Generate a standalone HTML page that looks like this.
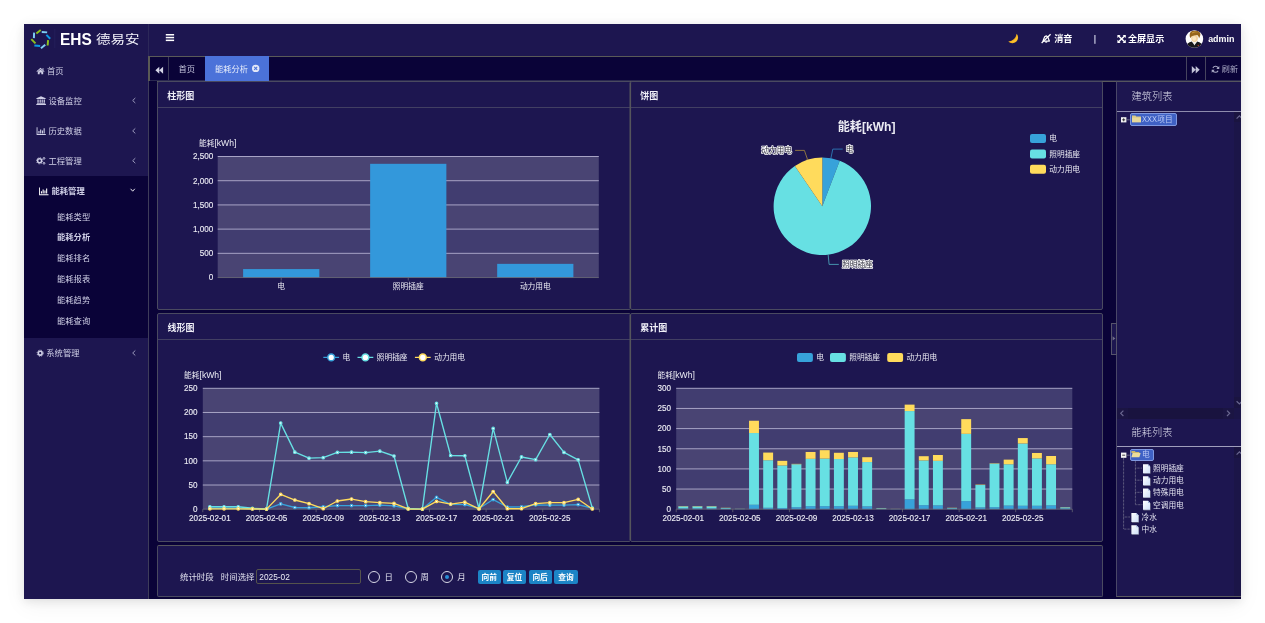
<!DOCTYPE html>
<html lang="zh-CN">
<head>
<meta charset="utf-8">
<title>EHS 德易安 - 能耗分析</title>
<style>
*{box-sizing:border-box;margin:0;padding:0}
html,body{width:1265px;height:623px;background:#fff;overflow:hidden}
body{position:relative;font-family:"Liberation Sans","Noto Sans CJK SC",sans-serif;font-size:8.25px;color:#d6d6ea;-webkit-font-smoothing:antialiased}
.abs{position:absolute}
#app{position:absolute;left:24px;top:24px;width:1217px;height:575px;background:#1d1650;box-shadow:0 2px 9px rgba(0,0,0,.10),0 6px 22px rgba(0,0,0,.055)}
.t{position:absolute;white-space:nowrap;line-height:12px;height:12px}
.b{font-weight:bold}
.w{color:#fff}
/* sidebar */
#side{position:absolute;left:24px;top:24px;width:124px;height:575px;background:#1d1650}
#sideline{position:absolute;left:148px;top:81px;width:1px;height:518px;background:#3e3c5a}
#sideline3{position:absolute;left:148px;top:56px;width:2px;height:25px;background:#5a5a55}
#sideline2{position:absolute;left:148px;top:24px;width:1.4px;height:32px;background:#2c2859}
#active{position:absolute;left:24px;top:176px;width:124px;height:162px;background:#0a0338}
.mi{position:absolute;left:47px;white-space:nowrap;line-height:12px;height:12px;font-size:8.3px;color:#cfcfe6}
.sub{left:57px}
.arr{position:absolute;left:131px;width:6px;height:8px}
/* header */
#tabbar{position:absolute;left:150px;top:56px;width:1091px;height:25px;background:#0a0338;border-top:1px solid #5a5a58;border-bottom:1px solid #2a2850}
#content{position:absolute;left:149px;top:81px;width:1092px;height:518px;background:#0a0338}
.panel{position:absolute;background:#1d1650;border:1px solid #4a4a60;border-radius:2px}
.ph{position:absolute;left:0;right:0;height:1px;background:#423f63}
.ptitle{position:absolute;white-space:nowrap;font-size:9px;font-weight:bold;color:#f0f0f8;line-height:12px;height:12px}
svg{position:absolute;left:0;top:0;overflow:visible}
svg text{font-family:"Liberation Sans","Noto Sans CJK SC",sans-serif}
.ax{font-size:7.7px;fill:#ececf4}
.axn{font-size:8.15px;fill:#ececf4;stroke:#ececf4;stroke-width:.12px}
.pl{font-size:7.7px;fill:#2a2a3a;stroke:#fff;stroke-width:1.5px;paint-order:stroke;stroke-linejoin:round}
.btn{position:absolute;top:570.2px;height:14.2px;width:23px;background:#1c84c6;border-radius:2px;color:#fff;font-weight:bold;font-size:7.7px;line-height:15.2px;text-align:center;white-space:nowrap}
.radio{position:absolute;top:570.8px;width:12px;height:12px;border:1px solid #d8d8e6;border-radius:50%}
.tree{position:absolute;white-space:nowrap;font-size:7.7px;line-height:12px;height:12px;color:#e4e4f0}
.rtitle{position:absolute;white-space:nowrap;font-size:10.2px;line-height:14px;height:14px;color:#dcdcec;font-weight:300}
</style>
</head>
<body>
<div id="app"></div>

<!-- ============ sidebar ============ -->
<div id="side"></div>
<div id="active"></div>
<div id="sideline2"></div>
<div id="sideline"></div>
<div id="sideline3"></div>

<!-- logo -->
<svg width="1265" height="623" viewBox="0 0 1265 623" style="pointer-events:none">
<g fill="none" stroke-width="1.95" stroke-linecap="butt">
<line x1="36.36" y1="33.52" x2="40.74" y2="30.08" stroke="#8dc21f"/>
<line x1="41.74" y1="31.93" x2="47.16" y2="32.37" stroke="#7ecef4"/>
<line x1="46.41" y1="34.91" x2="50.19" y2="38.79" stroke="#0d9be5"/>
<line x1="48.07" y1="40.13" x2="47.63" y2="45.47" stroke="#8dc21f"/>
<line x1="45.25" y1="44.79" x2="40.95" y2="48.31" stroke="#7ecef4"/>
<line x1="40.13" y1="46.05" x2="34.37" y2="45.45" stroke="#0d9be5"/>
<line x1="35.46" y1="43.35" x2="31.34" y2="39.05" stroke="#8dc21f"/>
<line x1="33.91" y1="38.15" x2="34.09" y2="32.65" stroke="#7ecef4"/>
</g>
<line x1="54.8" y1="29" x2="54.8" y2="48" stroke="#2a2560" stroke-width="0.6"/>
</svg>
<div class="t b w" style="left:60.2px;top:30.1px;font-size:16.7px;line-height:20px;height:20px;transform:scaleX(.925);transform-origin:0 0">EHS</div>
<div class="t w" style="left:96.3px;top:29.9px;font-size:12.4px;line-height:20px;height:20px;font-weight:400;color:#f2f2fa;transform:scaleX(1.17);transform-origin:0 0">德易安</div>

<!-- menu -->
<div class="mi" style="top:65px">首页</div>
<div class="mi" style="left:48.5px;top:94.6px">设备监控</div>
<div class="mi" style="left:48.5px;top:125px">历史数据</div>
<div class="mi" style="left:48.5px;top:154.6px">工程管理</div>
<div class="mi b w" style="left:51.5px;top:185.2px">能耗管理</div>
<div class="mi sub" style="top:210.6px">能耗类型</div>
<div class="mi sub b w" style="top:231px">能耗分析</div>
<div class="mi sub" style="top:252.4px">能耗排名</div>
<div class="mi sub" style="top:273.2px">能耗报表</div>
<div class="mi sub" style="top:294.2px">能耗趋势</div>
<div class="mi sub" style="top:315px">能耗查询</div>
<div class="mi" style="left:46.3px;top:347.2px">系统管理</div>

<svg width="1265" height="623" viewBox="0 0 1265 623">
<!-- menu icons -->
<g fill="#cfcfe6">
<!-- home -->
<path d="M36.5 71.3 L40.5 67.8 L44.5 71.3 L44 71.9 L40.5 68.9 L37 71.9 Z M37.8 71.7 L40.5 69.5 L43.2 71.7 V74.3 H41.3 V72.4 H39.7 V74.3 H37.8 Z M42.5 68.3h1v1.8l-1-.9z"/>
<!-- university -->
<path d="M36.4 98.2 L41 96.2 L45.7 98.2 L45.7 98.9 L36.4 98.9 Z M37.4 99.5h1.3v3.3h-1.3z M39.6 99.5h1.2v3.3h-1.2z M41.6 99.5h1.2v3.3h-1.2z M43.6 99.5h1.3v3.3h-1.3z M36.9 103.2h8.4v0.7h-8.4z M36.3 104.1h9.6v0.8h-9.6z"/>
<!-- bar chart -->
<path d="M36.6 127.2h0.9v6.9h8.3v0.9h-9.2z M38.4 131h1.1v2.4h-1.1z M40.1 129.4h1.1v4h-1.1z M41.9 130.4h1.1v3h-1.1z M43.6 128.2h1.1v5.2h-1.1z"/>
</g>
<!-- cogs -->
<g fill="none" stroke="#cfcfe6">
<circle cx="39.6" cy="160.8" r="2" stroke-width="1.5"/>
<circle cx="39.6" cy="160.8" r="3.1" stroke-width="0.9" stroke-dasharray="1.1 1.3"/>
<circle cx="44" cy="158.4" r="0.9" stroke-width="0.9"/>
<circle cx="44" cy="163.3" r="0.9" stroke-width="0.9"/>
</g>
<!-- active bar chart -->
<g fill="#fff">
<path d="M39.1 187.4h0.9v6.9h8.5v0.9h-9.4z M40.9 191.2h1.1v2.4h-1.1z M42.6 189.6h1.1v4h-1.1z M44.4 190.6h1.1v3h-1.1z M46.1 188.4h1.1v5.2h-1.1z"/>
</g>
<!-- cog -->
<g fill="none" stroke="#cfcfe6">
<circle cx="40.2" cy="353.2" r="1.9" stroke-width="1.6"/>
<circle cx="40.2" cy="353.2" r="3.1" stroke-width="0.9" stroke-dasharray="1.2 1.25"/>
</g>
<!-- chevrons -->
<g fill="none" stroke="#b8b8d4" stroke-width="0.8">
<polyline points="135.3,98 132.7,100.5 135.3,103"/>
<polyline points="135.3,128.4 132.7,130.9 135.3,133.4"/>
<polyline points="135.3,158.2 132.7,160.7 135.3,163.2"/>
<polyline points="135.3,350.5 132.7,353 135.3,355.5"/>
</g>
<polyline points="130.6,188.8 132.7,191.2 134.8,188.8" fill="none" stroke="#fff" stroke-width="0.9"/>
</svg>

<!-- ============ header ============ -->
<svg width="1265" height="623" viewBox="0 0 1265 623">
<!-- hamburger -->
<g fill="#fff"><rect x="165.8" y="34" width="8.3" height="1.5"/><rect x="165.8" y="36.8" width="8.3" height="1.5"/><rect x="165.8" y="39.6" width="8.3" height="1.5"/></g>
<!-- moon -->
<path d="M1016.7 33.7 A5.7 5.7 0 0 1 1008.3 41.4 A9.5 9.5 0 0 0 1016.7 33.7 Z" fill="#f5b41c"/>
<path d="M1017 35.4 A4.7 4.7 0 0 1 1010.6 41.8 A8 8 0 0 0 1017 35.4 Z" fill="#ffd04a" opacity=".5"/>
<!-- bell slash -->
<g fill="none" stroke="#fff" stroke-width="1.25" stroke-linejoin="round">
<path d="M1043 41 C1044 39.6 1043.6 36.2 1046.2 35.8 C1048.8 36.2 1048.2 39.6 1049.4 41 Z"/>
<path d="M1045.4 41.6 A0.9 0.9 0 0 0 1047 41.6"/>
<line x1="1050.6" y1="34.2" x2="1041.6" y2="43"/>
</g>
<!-- fullscreen arrows -->
<g stroke="#fff" stroke-width="1.5" fill="#fff">
<line x1="1118.6" y1="36" x2="1124.6" y2="41.8"/>
<line x1="1124.6" y1="36" x2="1118.6" y2="41.8"/>
</g>
<g fill="#fff">
<path d="M1117.4 34.9h3.2l-3.2 3.2z M1125.8 34.9v3.2l-3.2-3.2z M1117.4 42.9v-3.2l3.2 3.2z M1125.8 42.9h-3.2l3.2-3.2z"/>
</g>
<!-- avatar -->
<circle cx="1194.4" cy="39" r="8.8" fill="#fdfdfd"/>
<clipPath id="avc"><circle cx="1194.4" cy="39" r="8.8"/></clipPath>
<g clip-path="url(#avc)">
<path d="M1185.6 48.5 C1185.8 44.2 1188.6 42.6 1191.6 41.6 L1194.5 44.4 L1197.4 41.6 C1200.4 42.6 1203.2 44.2 1203.4 48.5 Z" fill="#19191b"/>
<path d="M1192.4 41.5 L1194.5 45.6 L1196.6 41.5 Z" fill="#f2efe9"/>
<ellipse cx="1194.6" cy="38.2" rx="3.3" ry="3.8" fill="#f4d39e"/>
<ellipse cx="1194.2" cy="38.6" rx="1.9" ry="2.4" fill="#fbe6c2"/>
<path d="M1190.4 38.2 C1188.8 34.6 1190.2 31.6 1192.4 31 C1193.6 30.2 1196 30.2 1197.6 31 C1200.4 31.6 1201.4 34.6 1199 38.4 C1198.8 36.4 1198 35 1196.6 35 C1194.6 35.6 1191.6 35.2 1190.4 38.2 Z" fill="#96651c"/>
<path d="M1192 32.4 C1193.6 31.2 1196.4 31 1198 32.2 C1196.4 32 1193.8 32.2 1192 33.6 Z" fill="#c9983e"/>
<circle cx="1198.2" cy="45.4" r="0.55" fill="#d23a2a"/>
</g>
</svg>
<div class="t b w" style="left:1054.2px;top:33px;font-size:9.05px">消音</div>
<svg width="1265" height="623"><rect x="1094.2" y="35" width="1.4" height="8.8" fill="#b0b0cc"/></svg>
<div class="t b w" style="left:1128px;top:32.9px;font-size:9.05px">全屏显示</div>
<div class="t b w" style="left:1208.2px;top:32.6px;font-size:8.9px">admin</div>

<!-- ============ tab bar ============ -->
<div id="tabbar"></div>
<div class="abs" style="left:168px;top:57px;width:1px;height:23px;background:#3a3858"></div>
<div class="abs" style="left:205px;top:56px;width:64.4px;height:25px;background:#4b72d9"></div>
<div class="abs" style="left:1186px;top:57px;width:1px;height:23px;background:#46445e"></div>
<div class="abs" style="left:1205px;top:57px;width:1px;height:23px;background:#46445e"></div>
<div class="t" style="left:178.5px;top:63.7px;font-size:8.25px;color:#c4c4dc">首页</div>
<div class="t" style="left:215px;top:63.7px;font-size:8.25px;color:#e6ecfb">能耗分析</div>
<div class="t" style="left:1221.8px;top:63.5px;font-size:8.1px;color:#a9a9c4">刷新</div>
<svg width="1265" height="623" viewBox="0 0 1265 623">
<g fill="#d4d4e6">
<path d="M159.3 66.7 L159.3 73.7 L155.4 70.2 Z M163.1 66.7 L163.1 73.7 L159.2 70.2 Z"/>
</g>
<g fill="#c2c2d8">
<path d="M1191.8 66.1 L1191.8 73.5 L1195.8 69.8 Z M1195.7 66.1 L1195.7 73.5 L1199.7 69.8 Z"/>
</g>
<!-- close icon -->
<circle cx="255.7" cy="68.4" r="3.7" fill="#e4e8f8"/>
<g stroke="#4b72d9" stroke-width="1.1"><line x1="254.2" y1="66.9" x2="257.2" y2="69.9"/><line x1="257.2" y1="66.9" x2="254.2" y2="69.9"/></g>
<!-- refresh -->
<g fill="none" stroke="#a9a9c4" stroke-width="1.1">
<path d="M1218.4 68.3 A3 3 0 0 0 1212.9 67.9"/>
<path d="M1212.6 70.3 A3 3 0 0 0 1218.1 70.7"/>
</g>
<g fill="#a9a9c4"><path d="M1219.3 65.9v3h-3z M1211.7 72.7v-3h3z"/></g>
</svg>

<!-- ============ content ============ -->
<div id="content"></div>
<div class="abs" style="left:157px;top:81px;width:1084px;height:1px;background:#5a5a5c"></div>
<div class="panel" style="left:157px;top:81px;width:474px;height:229px"><div class="ph" style="top:25px"></div></div>
<div class="panel" style="left:630px;top:81px;width:473px;height:229px"><div class="ph" style="top:25px"></div></div>
<div class="panel" style="left:157px;top:313px;width:474px;height:229px"><div class="ph" style="top:25px"></div></div>
<div class="panel" style="left:630px;top:313px;width:473px;height:229px"><div class="ph" style="top:25px"></div></div>
<div class="panel" style="left:157px;top:545px;width:946px;height:52px;border-top-color:#56565c"></div>
<div class="ptitle" style="left:167.2px;top:90px">柱形图</div>
<div class="ptitle" style="left:640.2px;top:90px">饼图</div>
<div class="ptitle" style="left:167.6px;top:322px">线形图</div>
<div class="ptitle" style="left:640.2px;top:322px">累计图</div>

<svg width="1265" height="623" viewBox="0 0 1265 623">
<rect x="629.5" y="83" width="1.6" height="225" fill="#55555c"/><rect x="629.5" y="315" width="1.6" height="225" fill="#55555c"/>
<rect x="217.7" y="253.34" width="381.1" height="24.21" fill="#494473"/>
<rect x="217.7" y="229.13" width="381.1" height="24.21" fill="#413d70"/>
<rect x="217.7" y="204.92" width="381.1" height="24.21" fill="#494473"/>
<rect x="217.7" y="180.71" width="381.1" height="24.21" fill="#413d70"/>
<rect x="217.7" y="156.5" width="381.1" height="24.21" fill="#494473"/>
<line x1="217.7" y1="253.34" x2="598.8" y2="253.34" stroke="#b4b1d0" stroke-width="0.9"/>
<line x1="217.7" y1="229.13" x2="598.8" y2="229.13" stroke="#b4b1d0" stroke-width="0.9"/>
<line x1="217.7" y1="204.92" x2="598.8" y2="204.92" stroke="#b4b1d0" stroke-width="0.9"/>
<line x1="217.7" y1="180.71" x2="598.8" y2="180.71" stroke="#b4b1d0" stroke-width="0.9"/>
<line x1="217.7" y1="156.5" x2="598.8" y2="156.5" stroke="#b4b1d0" stroke-width="0.9"/>
<text x="213.3" y="280.35" text-anchor="end" class="axn">0</text>
<text x="213.3" y="256.14" text-anchor="end" class="axn">500</text>
<text x="213.3" y="231.93" text-anchor="end" class="axn">1,000</text>
<text x="213.3" y="207.72" text-anchor="end" class="axn">1,500</text>
<text x="213.3" y="183.51" text-anchor="end" class="axn">2,000</text>
<text x="213.3" y="159.3" text-anchor="end" class="axn">2,500</text>
<text x="217.7" y="146" text-anchor="middle" class="ax">能耗<tspan style="font-size:8.6px">[kWh]</tspan></text>
<rect x="243.11" y="269.08" width="76.22" height="8.47" fill="#3398db"/>
<line x1="281.22" y1="277.55" x2="281.22" y2="280.55" stroke="#6e7079" stroke-width="0.7"/>
<text x="281.22" y="289.3" text-anchor="middle" class="ax">电</text>
<rect x="370.14" y="163.81" width="76.22" height="113.74" fill="#3398db"/>
<line x1="408.25" y1="277.55" x2="408.25" y2="280.55" stroke="#6e7079" stroke-width="0.7"/>
<text x="408.25" y="289.3" text-anchor="middle" class="ax">照明插座</text>
<rect x="497.17" y="263.85" width="76.22" height="13.7" fill="#3398db"/>
<line x1="535.28" y1="277.55" x2="535.28" y2="280.55" stroke="#6e7079" stroke-width="0.7"/>
<text x="535.28" y="289.3" text-anchor="middle" class="ax">动力用电</text>
<line x1="217.7" y1="277.55" x2="598.8" y2="277.55" stroke="#6e7079" stroke-width="0.8"/>
<path d="M822.3 206.3L822.3 157.6A48.7 48.7 0 0 1 839.75 160.83Z" fill="#37a2da"/>
<path d="M822.3 206.3L839.75 160.83A48.7 48.7 0 1 1 794.86 166.07Z" fill="#67e0e3"/>
<path d="M822.3 206.3L794.86 166.07A48.7 48.7 0 0 1 822.3 157.6Z" fill="#ffdb5c"/>
<text x="866.6" y="130.9" text-anchor="middle" style="font-size:12.1px;font-weight:bold;fill:#ececf4">能耗[kWh]</text>
<polyline points="830.9,158.2 832.8,149.1 842.7,149.1" fill="none" stroke="#2f86c4" stroke-width="0.8"/>
<polyline points="807.5,159.4 804.4,150.4 795.1,150.4" fill="none" stroke="#a8893f" stroke-width="0.8"/>
<polyline points="828.2,255 829.1,264.4 838.8,264.4" fill="none" stroke="#4fb3c4" stroke-width="0.8"/>
<text x="845.7" y="151.6" class="pl">电</text>
<text x="792" y="153.4" text-anchor="end" class="pl">动力用电</text>
<text x="842" y="266.8" class="pl">照明插座</text>
<rect x="1030" y="134" width="16" height="9" rx="2" fill="#37a2da"/>
<text x="1049.3" y="141.4" class="ax">电</text>
<rect x="1030" y="149.4" width="16" height="9" rx="2" fill="#67e0e3"/>
<text x="1049.3" y="156.8" class="ax">照明插座</text>
<rect x="1030" y="164.8" width="16" height="9" rx="2" fill="#ffdb5c"/>
<text x="1049.3" y="172.2" class="ax">动力用电</text>
<rect x="202.8" y="485.02" width="396.6" height="24.18" fill="#494473"/>
<rect x="202.8" y="460.84" width="396.6" height="24.18" fill="#413d70"/>
<rect x="202.8" y="436.66" width="396.6" height="24.18" fill="#494473"/>
<rect x="202.8" y="412.48" width="396.6" height="24.18" fill="#413d70"/>
<rect x="202.8" y="388.3" width="396.6" height="24.18" fill="#494473"/>
<line x1="202.8" y1="485.02" x2="599.4" y2="485.02" stroke="#b4b1d0" stroke-width="0.9"/>
<line x1="202.8" y1="460.84" x2="599.4" y2="460.84" stroke="#b4b1d0" stroke-width="0.9"/>
<line x1="202.8" y1="436.66" x2="599.4" y2="436.66" stroke="#b4b1d0" stroke-width="0.9"/>
<line x1="202.8" y1="412.48" x2="599.4" y2="412.48" stroke="#b4b1d0" stroke-width="0.9"/>
<line x1="202.8" y1="388.3" x2="599.4" y2="388.3" stroke="#b4b1d0" stroke-width="0.9"/>
<text x="197.6" y="512" text-anchor="end" class="axn">0</text>
<text x="197.6" y="487.82" text-anchor="end" class="axn">50</text>
<text x="197.6" y="463.64" text-anchor="end" class="axn">100</text>
<text x="197.6" y="439.46" text-anchor="end" class="axn">150</text>
<text x="197.6" y="415.28" text-anchor="end" class="axn">200</text>
<text x="197.6" y="391.1" text-anchor="end" class="axn">250</text>
<text x="202.8" y="377.6" text-anchor="middle" class="ax">能耗<tspan style="font-size:8.6px">[kWh]</tspan></text>
<line x1="202.8" y1="509.2" x2="599.4" y2="509.2" stroke="#6e7079" stroke-width="0.8"/>
<line x1="202.8" y1="509.2" x2="202.8" y2="512.2" stroke="#6e7079" stroke-width="0.7"/>
<line x1="259.46" y1="509.2" x2="259.46" y2="512.2" stroke="#6e7079" stroke-width="0.7"/>
<line x1="316.11" y1="509.2" x2="316.11" y2="512.2" stroke="#6e7079" stroke-width="0.7"/>
<line x1="372.77" y1="509.2" x2="372.77" y2="512.2" stroke="#6e7079" stroke-width="0.7"/>
<line x1="429.43" y1="509.2" x2="429.43" y2="512.2" stroke="#6e7079" stroke-width="0.7"/>
<line x1="486.09" y1="509.2" x2="486.09" y2="512.2" stroke="#6e7079" stroke-width="0.7"/>
<line x1="542.74" y1="509.2" x2="542.74" y2="512.2" stroke="#6e7079" stroke-width="0.7"/>
<line x1="599.4" y1="509.2" x2="599.4" y2="512.2" stroke="#6e7079" stroke-width="0.7"/>
<text x="209.88" y="521" text-anchor="middle" class="axn">2025-02-01</text>
<text x="266.54" y="521" text-anchor="middle" class="axn">2025-02-05</text>
<text x="323.2" y="521" text-anchor="middle" class="axn">2025-02-09</text>
<text x="379.85" y="521" text-anchor="middle" class="axn">2025-02-13</text>
<text x="436.51" y="521" text-anchor="middle" class="axn">2025-02-17</text>
<text x="493.17" y="521" text-anchor="middle" class="axn">2025-02-21</text>
<text x="549.83" y="521" text-anchor="middle" class="axn">2025-02-25</text>
<polyline fill="none" stroke="#37a2da" stroke-width="1.35" stroke-linejoin="round" points="209.88,508.23 224.05,508.23 238.21,508.23 252.38,508.72 266.54,509.05 280.7,503.88 294.87,507.51 309.03,507.75 323.2,506.78 337.36,505.57 351.52,505.57 365.69,505.57 379.85,505.09 394.02,505.81 408.18,508.72 422.35,509.05 436.51,497.35 450.67,504.36 464.84,504.61 479,508.47 493.17,499.53 507.33,507.02 521.5,506.78 535.66,504.85 549.83,505.09 563.99,505.09 578.15,504.61 592.32,508.23"/>
<circle cx="209.88" cy="508.23" r="1.3" fill="#fff" stroke="#37a2da" stroke-width="1.1"/>
<circle cx="224.05" cy="508.23" r="1.3" fill="#fff" stroke="#37a2da" stroke-width="1.1"/>
<circle cx="238.21" cy="508.23" r="1.3" fill="#fff" stroke="#37a2da" stroke-width="1.1"/>
<circle cx="252.38" cy="508.72" r="1.3" fill="#fff" stroke="#37a2da" stroke-width="1.1"/>
<circle cx="266.54" cy="509.05" r="1.3" fill="#fff" stroke="#37a2da" stroke-width="1.1"/>
<circle cx="280.7" cy="503.88" r="1.3" fill="#fff" stroke="#37a2da" stroke-width="1.1"/>
<circle cx="294.87" cy="507.51" r="1.3" fill="#fff" stroke="#37a2da" stroke-width="1.1"/>
<circle cx="309.03" cy="507.75" r="1.3" fill="#fff" stroke="#37a2da" stroke-width="1.1"/>
<circle cx="323.2" cy="506.78" r="1.3" fill="#fff" stroke="#37a2da" stroke-width="1.1"/>
<circle cx="337.36" cy="505.57" r="1.3" fill="#fff" stroke="#37a2da" stroke-width="1.1"/>
<circle cx="351.52" cy="505.57" r="1.3" fill="#fff" stroke="#37a2da" stroke-width="1.1"/>
<circle cx="365.69" cy="505.57" r="1.3" fill="#fff" stroke="#37a2da" stroke-width="1.1"/>
<circle cx="379.85" cy="505.09" r="1.3" fill="#fff" stroke="#37a2da" stroke-width="1.1"/>
<circle cx="394.02" cy="505.81" r="1.3" fill="#fff" stroke="#37a2da" stroke-width="1.1"/>
<circle cx="408.18" cy="508.72" r="1.3" fill="#fff" stroke="#37a2da" stroke-width="1.1"/>
<circle cx="422.35" cy="509.05" r="1.3" fill="#fff" stroke="#37a2da" stroke-width="1.1"/>
<circle cx="436.51" cy="497.35" r="1.3" fill="#fff" stroke="#37a2da" stroke-width="1.1"/>
<circle cx="450.67" cy="504.36" r="1.3" fill="#fff" stroke="#37a2da" stroke-width="1.1"/>
<circle cx="464.84" cy="504.61" r="1.3" fill="#fff" stroke="#37a2da" stroke-width="1.1"/>
<circle cx="479" cy="508.47" r="1.3" fill="#fff" stroke="#37a2da" stroke-width="1.1"/>
<circle cx="493.17" cy="499.53" r="1.3" fill="#fff" stroke="#37a2da" stroke-width="1.1"/>
<circle cx="507.33" cy="507.02" r="1.3" fill="#fff" stroke="#37a2da" stroke-width="1.1"/>
<circle cx="521.5" cy="506.78" r="1.3" fill="#fff" stroke="#37a2da" stroke-width="1.1"/>
<circle cx="535.66" cy="504.85" r="1.3" fill="#fff" stroke="#37a2da" stroke-width="1.1"/>
<circle cx="549.83" cy="505.09" r="1.3" fill="#fff" stroke="#37a2da" stroke-width="1.1"/>
<circle cx="563.99" cy="505.09" r="1.3" fill="#fff" stroke="#37a2da" stroke-width="1.1"/>
<circle cx="578.15" cy="504.61" r="1.3" fill="#fff" stroke="#37a2da" stroke-width="1.1"/>
<circle cx="592.32" cy="508.23" r="1.3" fill="#fff" stroke="#37a2da" stroke-width="1.1"/>
<polyline fill="none" stroke="#67e0e3" stroke-width="1.35" stroke-linejoin="round" points="209.88,506.78 224.05,506.78 238.21,506.78 252.38,508.23 266.54,508.96 280.7,423.12 294.87,452.14 309.03,458.18 323.2,457.7 337.36,452.38 351.52,452.14 365.69,452.62 379.85,451.17 394.02,456 408.18,508.47 422.35,509.05 436.51,403.29 450.67,455.52 464.84,455.76 479,508.47 493.17,428.44 507.33,482.36 521.5,456.97 535.66,459.63 549.83,434.48 563.99,452.38 578.15,459.87 592.32,507.99"/>
<circle cx="209.88" cy="506.78" r="1.3" fill="#fff" stroke="#67e0e3" stroke-width="1.1"/>
<circle cx="224.05" cy="506.78" r="1.3" fill="#fff" stroke="#67e0e3" stroke-width="1.1"/>
<circle cx="238.21" cy="506.78" r="1.3" fill="#fff" stroke="#67e0e3" stroke-width="1.1"/>
<circle cx="252.38" cy="508.23" r="1.3" fill="#fff" stroke="#67e0e3" stroke-width="1.1"/>
<circle cx="266.54" cy="508.96" r="1.3" fill="#fff" stroke="#67e0e3" stroke-width="1.1"/>
<circle cx="280.7" cy="423.12" r="1.3" fill="#fff" stroke="#67e0e3" stroke-width="1.1"/>
<circle cx="294.87" cy="452.14" r="1.3" fill="#fff" stroke="#67e0e3" stroke-width="1.1"/>
<circle cx="309.03" cy="458.18" r="1.3" fill="#fff" stroke="#67e0e3" stroke-width="1.1"/>
<circle cx="323.2" cy="457.7" r="1.3" fill="#fff" stroke="#67e0e3" stroke-width="1.1"/>
<circle cx="337.36" cy="452.38" r="1.3" fill="#fff" stroke="#67e0e3" stroke-width="1.1"/>
<circle cx="351.52" cy="452.14" r="1.3" fill="#fff" stroke="#67e0e3" stroke-width="1.1"/>
<circle cx="365.69" cy="452.62" r="1.3" fill="#fff" stroke="#67e0e3" stroke-width="1.1"/>
<circle cx="379.85" cy="451.17" r="1.3" fill="#fff" stroke="#67e0e3" stroke-width="1.1"/>
<circle cx="394.02" cy="456" r="1.3" fill="#fff" stroke="#67e0e3" stroke-width="1.1"/>
<circle cx="408.18" cy="508.47" r="1.3" fill="#fff" stroke="#67e0e3" stroke-width="1.1"/>
<circle cx="422.35" cy="509.05" r="1.3" fill="#fff" stroke="#67e0e3" stroke-width="1.1"/>
<circle cx="436.51" cy="403.29" r="1.3" fill="#fff" stroke="#67e0e3" stroke-width="1.1"/>
<circle cx="450.67" cy="455.52" r="1.3" fill="#fff" stroke="#67e0e3" stroke-width="1.1"/>
<circle cx="464.84" cy="455.76" r="1.3" fill="#fff" stroke="#67e0e3" stroke-width="1.1"/>
<circle cx="479" cy="508.47" r="1.3" fill="#fff" stroke="#67e0e3" stroke-width="1.1"/>
<circle cx="493.17" cy="428.44" r="1.3" fill="#fff" stroke="#67e0e3" stroke-width="1.1"/>
<circle cx="507.33" cy="482.36" r="1.3" fill="#fff" stroke="#67e0e3" stroke-width="1.1"/>
<circle cx="521.5" cy="456.97" r="1.3" fill="#fff" stroke="#67e0e3" stroke-width="1.1"/>
<circle cx="535.66" cy="459.63" r="1.3" fill="#fff" stroke="#67e0e3" stroke-width="1.1"/>
<circle cx="549.83" cy="434.48" r="1.3" fill="#fff" stroke="#67e0e3" stroke-width="1.1"/>
<circle cx="563.99" cy="452.38" r="1.3" fill="#fff" stroke="#67e0e3" stroke-width="1.1"/>
<circle cx="578.15" cy="459.87" r="1.3" fill="#fff" stroke="#67e0e3" stroke-width="1.1"/>
<circle cx="592.32" cy="507.99" r="1.3" fill="#fff" stroke="#67e0e3" stroke-width="1.1"/>
<polyline fill="none" stroke="#ffdb5c" stroke-width="1.35" stroke-linejoin="round" points="209.88,508.81 224.05,508.81 238.21,508.81 252.38,508.96 266.54,509.1 280.7,494.45 294.87,500.01 309.03,503.64 323.2,508.72 337.36,500.98 351.52,499.04 365.69,501.7 379.85,502.67 394.02,503.4 408.18,508.96 422.35,509.1 436.51,501.46 450.67,504.12 464.84,502.19 479,508.96 493.17,491.55 507.33,508.72 521.5,508.72 535.66,503.64 549.83,502.67 563.99,502.67 578.15,499.29 592.32,508.96"/>
<circle cx="209.88" cy="508.81" r="1.3" fill="#fff" stroke="#ffdb5c" stroke-width="1.1"/>
<circle cx="224.05" cy="508.81" r="1.3" fill="#fff" stroke="#ffdb5c" stroke-width="1.1"/>
<circle cx="238.21" cy="508.81" r="1.3" fill="#fff" stroke="#ffdb5c" stroke-width="1.1"/>
<circle cx="252.38" cy="508.96" r="1.3" fill="#fff" stroke="#ffdb5c" stroke-width="1.1"/>
<circle cx="266.54" cy="509.1" r="1.3" fill="#fff" stroke="#ffdb5c" stroke-width="1.1"/>
<circle cx="280.7" cy="494.45" r="1.3" fill="#fff" stroke="#ffdb5c" stroke-width="1.1"/>
<circle cx="294.87" cy="500.01" r="1.3" fill="#fff" stroke="#ffdb5c" stroke-width="1.1"/>
<circle cx="309.03" cy="503.64" r="1.3" fill="#fff" stroke="#ffdb5c" stroke-width="1.1"/>
<circle cx="323.2" cy="508.72" r="1.3" fill="#fff" stroke="#ffdb5c" stroke-width="1.1"/>
<circle cx="337.36" cy="500.98" r="1.3" fill="#fff" stroke="#ffdb5c" stroke-width="1.1"/>
<circle cx="351.52" cy="499.04" r="1.3" fill="#fff" stroke="#ffdb5c" stroke-width="1.1"/>
<circle cx="365.69" cy="501.7" r="1.3" fill="#fff" stroke="#ffdb5c" stroke-width="1.1"/>
<circle cx="379.85" cy="502.67" r="1.3" fill="#fff" stroke="#ffdb5c" stroke-width="1.1"/>
<circle cx="394.02" cy="503.4" r="1.3" fill="#fff" stroke="#ffdb5c" stroke-width="1.1"/>
<circle cx="408.18" cy="508.96" r="1.3" fill="#fff" stroke="#ffdb5c" stroke-width="1.1"/>
<circle cx="422.35" cy="509.1" r="1.3" fill="#fff" stroke="#ffdb5c" stroke-width="1.1"/>
<circle cx="436.51" cy="501.46" r="1.3" fill="#fff" stroke="#ffdb5c" stroke-width="1.1"/>
<circle cx="450.67" cy="504.12" r="1.3" fill="#fff" stroke="#ffdb5c" stroke-width="1.1"/>
<circle cx="464.84" cy="502.19" r="1.3" fill="#fff" stroke="#ffdb5c" stroke-width="1.1"/>
<circle cx="479" cy="508.96" r="1.3" fill="#fff" stroke="#ffdb5c" stroke-width="1.1"/>
<circle cx="493.17" cy="491.55" r="1.3" fill="#fff" stroke="#ffdb5c" stroke-width="1.1"/>
<circle cx="507.33" cy="508.72" r="1.3" fill="#fff" stroke="#ffdb5c" stroke-width="1.1"/>
<circle cx="521.5" cy="508.72" r="1.3" fill="#fff" stroke="#ffdb5c" stroke-width="1.1"/>
<circle cx="535.66" cy="503.64" r="1.3" fill="#fff" stroke="#ffdb5c" stroke-width="1.1"/>
<circle cx="549.83" cy="502.67" r="1.3" fill="#fff" stroke="#ffdb5c" stroke-width="1.1"/>
<circle cx="563.99" cy="502.67" r="1.3" fill="#fff" stroke="#ffdb5c" stroke-width="1.1"/>
<circle cx="578.15" cy="499.29" r="1.3" fill="#fff" stroke="#ffdb5c" stroke-width="1.1"/>
<circle cx="592.32" cy="508.96" r="1.3" fill="#fff" stroke="#ffdb5c" stroke-width="1.1"/>
<line x1="323.3" y1="357.4" x2="339.1" y2="357.4" stroke="#37a2da" stroke-width="1.25"/>
<circle cx="331.2" cy="357.4" r="3.4" fill="#fff" stroke="#37a2da" stroke-width="1.5"/>
<text x="342.6" y="360.2" class="ax">电</text>
<line x1="357.5" y1="357.4" x2="373.3" y2="357.4" stroke="#67e0e3" stroke-width="1.25"/>
<circle cx="365.4" cy="357.4" r="3.4" fill="#fff" stroke="#67e0e3" stroke-width="1.5"/>
<text x="376.8" y="360.2" class="ax">照明插座</text>
<line x1="414.9" y1="357.4" x2="430.7" y2="357.4" stroke="#ffdb5c" stroke-width="1.25"/>
<circle cx="422.8" cy="357.4" r="3.4" fill="#fff" stroke="#ffdb5c" stroke-width="1.5"/>
<text x="434.2" y="360.2" class="ax">动力用电</text>
<rect x="676.2" y="489.05" width="396.1" height="20.15" fill="#494473"/>
<rect x="676.2" y="468.9" width="396.1" height="20.15" fill="#413d70"/>
<rect x="676.2" y="448.75" width="396.1" height="20.15" fill="#494473"/>
<rect x="676.2" y="428.6" width="396.1" height="20.15" fill="#413d70"/>
<rect x="676.2" y="408.45" width="396.1" height="20.15" fill="#494473"/>
<rect x="676.2" y="388.3" width="396.1" height="20.15" fill="#413d70"/>
<line x1="676.2" y1="489.05" x2="1072.3" y2="489.05" stroke="#b4b1d0" stroke-width="0.9"/>
<line x1="676.2" y1="468.9" x2="1072.3" y2="468.9" stroke="#b4b1d0" stroke-width="0.9"/>
<line x1="676.2" y1="448.75" x2="1072.3" y2="448.75" stroke="#b4b1d0" stroke-width="0.9"/>
<line x1="676.2" y1="428.6" x2="1072.3" y2="428.6" stroke="#b4b1d0" stroke-width="0.9"/>
<line x1="676.2" y1="408.45" x2="1072.3" y2="408.45" stroke="#b4b1d0" stroke-width="0.9"/>
<line x1="676.2" y1="388.3" x2="1072.3" y2="388.3" stroke="#b4b1d0" stroke-width="0.9"/>
<text x="671" y="512" text-anchor="end" class="axn">0</text>
<text x="671" y="491.85" text-anchor="end" class="axn">50</text>
<text x="671" y="471.7" text-anchor="end" class="axn">100</text>
<text x="671" y="451.55" text-anchor="end" class="axn">150</text>
<text x="671" y="431.4" text-anchor="end" class="axn">200</text>
<text x="671" y="411.25" text-anchor="end" class="axn">250</text>
<text x="671" y="391.1" text-anchor="end" class="axn">300</text>
<text x="676.2" y="377.6" text-anchor="middle" class="ax">能耗<tspan style="font-size:8.6px">[kWh]</tspan></text>
<rect x="678.32" y="508.39" width="9.9" height="0.81" fill="#37a2da"/>
<rect x="678.32" y="506.38" width="9.9" height="2.01" fill="#67e0e3"/>
<rect x="678.32" y="506.06" width="9.9" height="0.32" fill="#ffdb5c"/>
<rect x="692.47" y="508.39" width="9.9" height="0.81" fill="#37a2da"/>
<rect x="692.47" y="506.38" width="9.9" height="2.01" fill="#67e0e3"/>
<rect x="692.47" y="506.06" width="9.9" height="0.32" fill="#ffdb5c"/>
<rect x="706.61" y="508.39" width="9.9" height="0.81" fill="#37a2da"/>
<rect x="706.61" y="506.38" width="9.9" height="2.01" fill="#67e0e3"/>
<rect x="706.61" y="506.06" width="9.9" height="0.32" fill="#ffdb5c"/>
<rect x="720.76" y="508.8" width="9.9" height="0.4" fill="#37a2da"/>
<rect x="720.76" y="507.99" width="9.9" height="0.81" fill="#67e0e3"/>
<rect x="720.76" y="507.79" width="9.9" height="0.2" fill="#ffdb5c"/>
<rect x="734.91" y="509.08" width="9.9" height="0.12" fill="#37a2da"/>
<rect x="734.91" y="508.88" width="9.9" height="0.2" fill="#67e0e3"/>
<rect x="734.91" y="508.8" width="9.9" height="0.08" fill="#ffdb5c"/>
<rect x="749.05" y="504.77" width="9.9" height="4.43" fill="#37a2da"/>
<rect x="749.05" y="433.03" width="9.9" height="71.73" fill="#67e0e3"/>
<rect x="749.05" y="420.74" width="9.9" height="12.29" fill="#ffdb5c"/>
<rect x="763.2" y="507.79" width="9.9" height="1.41" fill="#37a2da"/>
<rect x="763.2" y="460.24" width="9.9" height="47.55" fill="#67e0e3"/>
<rect x="763.2" y="452.58" width="9.9" height="7.66" fill="#ffdb5c"/>
<rect x="777.35" y="507.99" width="9.9" height="1.21" fill="#37a2da"/>
<rect x="777.35" y="465.47" width="9.9" height="42.52" fill="#67e0e3"/>
<rect x="777.35" y="460.84" width="9.9" height="4.63" fill="#ffdb5c"/>
<rect x="791.49" y="507.19" width="9.9" height="2.01" fill="#37a2da"/>
<rect x="791.49" y="464.27" width="9.9" height="42.92" fill="#67e0e3"/>
<rect x="791.49" y="463.86" width="9.9" height="0.4" fill="#ffdb5c"/>
<rect x="805.64" y="506.18" width="9.9" height="3.02" fill="#37a2da"/>
<rect x="805.64" y="458.83" width="9.9" height="47.35" fill="#67e0e3"/>
<rect x="805.64" y="451.97" width="9.9" height="6.85" fill="#ffdb5c"/>
<rect x="819.79" y="506.18" width="9.9" height="3.02" fill="#37a2da"/>
<rect x="819.79" y="458.62" width="9.9" height="47.55" fill="#67e0e3"/>
<rect x="819.79" y="450.16" width="9.9" height="8.46" fill="#ffdb5c"/>
<rect x="833.93" y="506.18" width="9.9" height="3.02" fill="#37a2da"/>
<rect x="833.93" y="459.03" width="9.9" height="47.15" fill="#67e0e3"/>
<rect x="833.93" y="452.78" width="9.9" height="6.25" fill="#ffdb5c"/>
<rect x="848.08" y="505.77" width="9.9" height="3.43" fill="#37a2da"/>
<rect x="848.08" y="457.41" width="9.9" height="48.36" fill="#67e0e3"/>
<rect x="848.08" y="451.97" width="9.9" height="5.44" fill="#ffdb5c"/>
<rect x="862.23" y="506.38" width="9.9" height="2.82" fill="#37a2da"/>
<rect x="862.23" y="462.05" width="9.9" height="44.33" fill="#67e0e3"/>
<rect x="862.23" y="457.21" width="9.9" height="4.84" fill="#ffdb5c"/>
<rect x="876.37" y="508.8" width="9.9" height="0.4" fill="#37a2da"/>
<rect x="876.37" y="508.19" width="9.9" height="0.6" fill="#67e0e3"/>
<rect x="876.37" y="507.99" width="9.9" height="0.2" fill="#ffdb5c"/>
<rect x="890.52" y="509.08" width="9.9" height="0.12" fill="#37a2da"/>
<rect x="890.52" y="508.96" width="9.9" height="0.12" fill="#67e0e3"/>
<rect x="890.52" y="508.88" width="9.9" height="0.08" fill="#ffdb5c"/>
<rect x="904.66" y="499.33" width="9.9" height="9.87" fill="#37a2da"/>
<rect x="904.66" y="411.07" width="9.9" height="88.26" fill="#67e0e3"/>
<rect x="904.66" y="404.62" width="9.9" height="6.45" fill="#ffdb5c"/>
<rect x="918.81" y="505.17" width="9.9" height="4.03" fill="#37a2da"/>
<rect x="918.81" y="460.44" width="9.9" height="44.73" fill="#67e0e3"/>
<rect x="918.81" y="456.21" width="9.9" height="4.23" fill="#ffdb5c"/>
<rect x="932.96" y="505.37" width="9.9" height="3.83" fill="#37a2da"/>
<rect x="932.96" y="460.84" width="9.9" height="44.53" fill="#67e0e3"/>
<rect x="932.96" y="455" width="9.9" height="5.84" fill="#ffdb5c"/>
<rect x="947.1" y="508.6" width="9.9" height="0.6" fill="#37a2da"/>
<rect x="947.1" y="507.99" width="9.9" height="0.6" fill="#67e0e3"/>
<rect x="947.1" y="507.79" width="9.9" height="0.2" fill="#ffdb5c"/>
<rect x="961.25" y="501.14" width="9.9" height="8.06" fill="#37a2da"/>
<rect x="961.25" y="433.84" width="9.9" height="67.3" fill="#67e0e3"/>
<rect x="961.25" y="419.13" width="9.9" height="14.71" fill="#ffdb5c"/>
<rect x="975.4" y="507.39" width="9.9" height="1.81" fill="#37a2da"/>
<rect x="975.4" y="485.02" width="9.9" height="22.37" fill="#67e0e3"/>
<rect x="975.4" y="484.62" width="9.9" height="0.4" fill="#ffdb5c"/>
<rect x="989.54" y="507.19" width="9.9" height="2.01" fill="#37a2da"/>
<rect x="989.54" y="463.66" width="9.9" height="43.52" fill="#67e0e3"/>
<rect x="989.54" y="463.26" width="9.9" height="0.4" fill="#ffdb5c"/>
<rect x="1003.69" y="505.57" width="9.9" height="3.63" fill="#37a2da"/>
<rect x="1003.69" y="464.27" width="9.9" height="41.31" fill="#67e0e3"/>
<rect x="1003.69" y="459.63" width="9.9" height="4.63" fill="#ffdb5c"/>
<rect x="1017.84" y="505.77" width="9.9" height="3.43" fill="#37a2da"/>
<rect x="1017.84" y="443.51" width="9.9" height="62.26" fill="#67e0e3"/>
<rect x="1017.84" y="438.07" width="9.9" height="5.44" fill="#ffdb5c"/>
<rect x="1031.98" y="505.77" width="9.9" height="3.43" fill="#37a2da"/>
<rect x="1031.98" y="458.42" width="9.9" height="47.35" fill="#67e0e3"/>
<rect x="1031.98" y="452.98" width="9.9" height="5.44" fill="#ffdb5c"/>
<rect x="1046.13" y="505.37" width="9.9" height="3.83" fill="#37a2da"/>
<rect x="1046.13" y="464.27" width="9.9" height="41.11" fill="#67e0e3"/>
<rect x="1046.13" y="456" width="9.9" height="8.26" fill="#ffdb5c"/>
<rect x="1060.28" y="508.39" width="9.9" height="0.81" fill="#37a2da"/>
<rect x="1060.28" y="507.39" width="9.9" height="1.01" fill="#67e0e3"/>
<rect x="1060.28" y="507.19" width="9.9" height="0.2" fill="#ffdb5c"/>
<line x1="676.2" y1="509.2" x2="1072.3" y2="509.2" stroke="#6e7079" stroke-width="0.8"/>
<line x1="676.2" y1="509.2" x2="676.2" y2="512.2" stroke="#6e7079" stroke-width="0.7"/>
<line x1="732.79" y1="509.2" x2="732.79" y2="512.2" stroke="#6e7079" stroke-width="0.7"/>
<line x1="789.37" y1="509.2" x2="789.37" y2="512.2" stroke="#6e7079" stroke-width="0.7"/>
<line x1="845.96" y1="509.2" x2="845.96" y2="512.2" stroke="#6e7079" stroke-width="0.7"/>
<line x1="902.54" y1="509.2" x2="902.54" y2="512.2" stroke="#6e7079" stroke-width="0.7"/>
<line x1="959.13" y1="509.2" x2="959.13" y2="512.2" stroke="#6e7079" stroke-width="0.7"/>
<line x1="1015.71" y1="509.2" x2="1015.71" y2="512.2" stroke="#6e7079" stroke-width="0.7"/>
<line x1="1072.3" y1="509.2" x2="1072.3" y2="512.2" stroke="#6e7079" stroke-width="0.7"/>
<text x="683.27" y="521" text-anchor="middle" class="axn">2025-02-01</text>
<text x="739.86" y="521" text-anchor="middle" class="axn">2025-02-05</text>
<text x="796.44" y="521" text-anchor="middle" class="axn">2025-02-09</text>
<text x="853.03" y="521" text-anchor="middle" class="axn">2025-02-13</text>
<text x="909.62" y="521" text-anchor="middle" class="axn">2025-02-17</text>
<text x="966.2" y="521" text-anchor="middle" class="axn">2025-02-21</text>
<text x="1022.79" y="521" text-anchor="middle" class="axn">2025-02-25</text>
<rect x="797" y="353.1" width="15.9" height="8.9" rx="2" fill="#37a2da"/>
<text x="816.2" y="360.3" class="ax">电</text>
<rect x="830" y="353.1" width="15.9" height="8.9" rx="2" fill="#67e0e3"/>
<text x="849.2" y="360.3" class="ax">照明插座</text>
<rect x="887.2" y="353.1" width="15.9" height="8.9" rx="2" fill="#ffdb5c"/>
<text x="906.4" y="360.3" class="ax">动力用电</text>
</svg>

<!-- ============ bottom filter ============ -->
<div class="t" style="left:180px;top:571px;font-size:8.45px;color:#e0e0ee">统计时段</div>
<div class="t" style="left:220.8px;top:571px;font-size:8.45px;color:#e0e0ee">时间选择</div>
<div class="abs" style="left:256.3px;top:569.2px;width:104.6px;height:14.8px;border:1px solid #55534c;border-radius:2px"></div>
<div class="t" style="left:259.3px;top:570.8px;font-size:8.3px;color:#ececf6">2025-02</div>
<div class="radio" style="left:368px"></div>
<div class="t" style="left:384.6px;top:571.3px;font-size:8.4px;color:#e0e0ee">日</div>
<div class="radio" style="left:405px"></div>
<div class="t" style="left:420.6px;top:571.3px;font-size:8.4px;color:#e0e0ee">周</div>
<div class="radio" style="left:441px"></div>
<div class="abs" style="left:444.8px;top:574.6px;width:4.4px;height:4.4px;border-radius:50%;background:#2a8fd6"></div>
<div class="t" style="left:457.2px;top:571.3px;font-size:8.4px;color:#e0e0ee">月</div>
<div class="btn" style="left:477.8px">向前</div>
<div class="btn" style="left:502.9px">复位</div>
<div class="btn" style="left:528.6px">向后</div>
<div class="btn" style="left:554.2px;width:23.4px">查询</div>

<!-- ============ right panel ============ -->
<div class="abs" style="left:1116px;top:81px;width:125px;height:516px;background:#1d1650;border-left:1px solid #4a4768;border-bottom:1px solid #5c5a60;border-top:1px solid #55555e"></div>
<div class="abs" style="left:1111px;top:323px;width:6px;height:32px;background:#1d1650;border:1px solid #55536a"></div>
<div class="rtitle" style="left:1131.6px;top:89.7px">建筑列表</div>
<div class="abs" style="left:1117px;top:111px;width:124px;height:1.2px;background:#8e8cae"></div>
<div class="rtitle" style="left:1131.6px;top:426px">能耗列表</div>
<div class="abs" style="left:1117px;top:446.2px;width:124px;height:1.2px;background:#a09ebc"></div>
<!-- scrollbars -->
<div class="abs" style="left:1234px;top:112.2px;width:7px;height:307px;background:#1b1548"></div><div class="abs" style="left:1234px;top:397px;width:7px;height:11px;background:#1a1440"></div><div class="abs" style="left:1234px;top:112.2px;width:7px;height:10px;background:#1a1440"></div>
<div class="abs" style="left:1117px;top:408px;width:117px;height:10.8px;background:#19133f"></div><div class="abs" style="left:1117px;top:408px;width:11px;height:10.8px;background:#1b1543"></div><div class="abs" style="left:1223px;top:408px;width:11px;height:10.8px;background:#1b1543"></div>
<div class="abs" style="left:1234px;top:447.4px;width:7px;height:148.6px;background:#1b1548"></div><div class="abs" style="left:1234px;top:447.4px;width:7px;height:10.6px;background:#1a1440"></div>
<!-- tree 1 -->
<div class="abs" style="left:1130px;top:113.3px;width:46.8px;height:12.4px;background:#3f61c4;border:1px solid #7f98e0;border-radius:2px"></div>
<div class="tree" style="left:1142.2px;top:113.6px;color:#b9c8f4"><span style="display:inline-block;transform:scale(.97,1.2);transform-origin:0 62%;width:15px">XXX</span>项目</div>
<!-- tree 2 -->
<div class="abs" style="left:1130px;top:448.7px;width:23.8px;height:12.2px;background:#3f61c4;border:1px solid #7f98e0;border-radius:2px"></div>
<div class="tree" style="left:1142px;top:448.8px;color:#b9c8f4">电</div>
<div class="tree" style="left:1153px;top:462.9px">照明插座</div>
<div class="tree" style="left:1153px;top:475.0px">动力用电</div>
<div class="tree" style="left:1153px;top:487.2px">特殊用电</div>
<div class="tree" style="left:1153px;top:499.5px">空调用电</div>
<div class="tree" style="left:1141.6px;top:511.8px">冷水</div>
<div class="tree" style="left:1141.6px;top:523.9px">中水</div>
<svg width="1265" height="623" viewBox="0 0 1265 623">
<!-- splitter arrow -->
<path d="M1112.6 336.2 L1115.4 338.4 L1112.6 340.6 Z" fill="#6f6d88"/>
<!-- scroll arrows -->
<g fill="none" stroke="#6a6790" stroke-width="1.2" clip-path="url(#appclip)">
<polyline points="1236.6,118.6 1239.4,115.9 1242.2,118.6"/>
<polyline points="1236.6,401.3 1239.4,404 1242.2,401.3"/>
<polyline points="1236.6,454.6 1239.4,451.9 1242.2,454.6"/>
<polyline points="1123.4,410.6 1120.7,413.3 1123.4,416"/>
<polyline points="1227,410.6 1229.7,413.3 1227,416"/>
</g>
<clipPath id="appclip"><rect x="24" y="24" width="1217" height="575"/></clipPath>
<!-- tree expanders -->
<g>
<rect x="1121" y="117.2" width="5.4" height="5.2" fill="#f4f4f4"/>
<path d="M1122.2 119.8h3 M1123.7 118.3v3" stroke="#111" stroke-width="0.8"/>
<rect x="1121" y="452.6" width="5.4" height="5.2" fill="#f4f4f4"/>
<path d="M1122.2 455.2h3" stroke="#111" stroke-width="0.8"/>
</g>
<!-- dotted lines -->
<g stroke="#a0a0ae" stroke-width="0.7" stroke-dasharray="0.7 0.7" fill="none">

<path d="M1123.6 458v71.1h7"/>
<path d="M1123.6 517h7"/>
<path d="M1135.4 461v43.7h7"/>
<path d="M1135.4 468.1h7 M1135.4 480.2h7 M1135.4 492.3h7"/>
</g>
<path d="M1126.6 119.8h3.2 M1126.6 455.2h3.2" stroke="#8c8c9c" stroke-width="0.7" fill="none"/>
<!-- folder icons -->
<g>
<path d="M1132 115.6h3.4l0.9 1h4.7v5.6h-9z" fill="#d9c987"/>
<path d="M1132 117.6h9v4.6h-9z" fill="#e6d89a"/>
<path d="M1131.4 451h3.4l0.9 1h3.6v1h-7.9z" fill="#cdb96e"/>
<path d="M1132.6 453h8l-1.2 4.3h-8z" fill="#ecdc9c"/>
</g>
<!-- doc icons -->
<linearGradient id="dg" x1="0" y1="0" x2="1" y2="1"><stop offset="0" stop-color="#ffffff"/><stop offset="1" stop-color="#cfe0fa"/></linearGradient>
<g id="docs">
<path d="M1143.5 464.8h5l2.1 2.1v6.9h-7.1z" fill="#7c7c8c" opacity=".8"/><path d="M1143 464.2h5l2.1 2.1v6.9h-7.1z" fill="url(#dg)"/><path d="M1148 464.2l2.1 2.1h-2.1z" fill="#9db4dc"/>
<path d="M1143.5 476.90000000000003h5l2.1 2.1v6.9h-7.1z" fill="#7c7c8c" opacity=".8"/><path d="M1143 476.3h5l2.1 2.1v6.9h-7.1z" fill="url(#dg)"/><path d="M1148 476.3l2.1 2.1h-2.1z" fill="#9db4dc"/>
<path d="M1143.5 489.1h5l2.1 2.1v6.9h-7.1z" fill="#7c7c8c" opacity=".8"/><path d="M1143 488.5h5l2.1 2.1v6.9h-7.1z" fill="url(#dg)"/><path d="M1148 488.5l2.1 2.1h-2.1z" fill="#9db4dc"/>
<path d="M1143.5 501.40000000000003h5l2.1 2.1v6.9h-7.1z" fill="#7c7c8c" opacity=".8"/><path d="M1143 500.8h5l2.1 2.1v6.9h-7.1z" fill="url(#dg)"/><path d="M1148 500.8l2.1 2.1h-2.1z" fill="#9db4dc"/>
<path d="M1131.9 513.7h5l2.1 2.1v6.9h-7.1z" fill="#7c7c8c" opacity=".8"/><path d="M1131.4 513.1h5l2.1 2.1v6.9h-7.1z" fill="url(#dg)"/><path d="M1136.4 513.1l2.1 2.1h-2.1z" fill="#9db4dc"/>
<path d="M1131.9 525.8000000000001h5l2.1 2.1v6.9h-7.1z" fill="#7c7c8c" opacity=".8"/><path d="M1131.4 525.2h5l2.1 2.1v6.9h-7.1z" fill="url(#dg)"/><path d="M1136.4 525.2l2.1 2.1h-2.1z" fill="#9db4dc"/>
</g>
</svg>
</body>
</html>
